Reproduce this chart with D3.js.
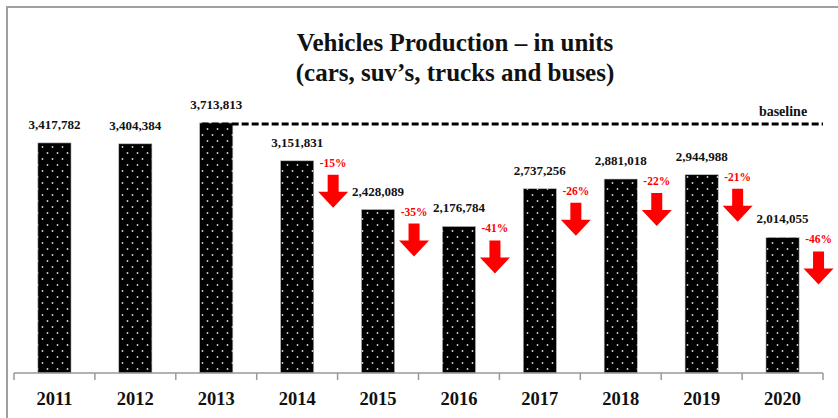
<!DOCTYPE html>
<html>
<head>
<meta charset="utf-8">
<script src="https://cdn.jsdelivr.net/npm/d3@7"></script>
<style>
    body { margin: 0; background: #fff; }
    svg { display: block; font-family: "Liberation Serif", "Times New Roman", serif; font-weight: bold; }
</style>
</head>
<body>
<div id="chart"></div>
<script>
// chart data
const years = ["2011", "2012", "2013", "2014", "2015", "2016", "2017", "2018", "2019", "2020"];
const production = [3417782, 3404384, 3713813, 3151831, 2428089, 2176784, 2737256, 2881018, 2944988, 2014055];
const changeYears = ["2014", "2015", "2016", "2017", "2018", "2019", "2020"];
const changeLabels = ["-15%", "-35%", "-41%", "-26%", "-22%", "-21%", "-46%"];
const baselineYear = "2013";

const data = years.map((y, i) => ({year: y, value: production[i]}));
const changes = changeYears.map((y, i) => ({year: y, label: changeLabels[i], value: production[years.indexOf(y)]}));

const width = 838, height = 418;

const svg = d3.select("#chart").append("svg")
    .attr("width", width)
    .attr("height", height);

// dotted fill for the bars
const defs = svg.append("defs");
const pat = defs.append("pattern")
    .attr("id", "dots")
    .attr("patternUnits", "userSpaceOnUse")
    .attr("width", 10)
    .attr("height", 12);
pat.append("rect").attr("width", 10).attr("height", 12).attr("fill", "#000");
pat.append("circle").attr("cx", 2.5).attr("cy", 3).attr("r", 0.9).attr("fill", "#d8d8d8");
pat.append("circle").attr("cx", 7.5).attr("cy", 9).attr("r", 0.9).attr("fill", "#d8d8d8");

// frame (top + left edge visible)
svg.append("path")
    .attr("d", `M7,${height} L7,7 L${width},7`)
    .attr("fill", "none")
    .attr("stroke", "#a0a0a0")
    .attr("stroke-width", 2);

// scales
const x = d3.scaleBand()
    .domain(years)
    .range([14, 823])
    .paddingInner(0.59)
    .paddingOuter(0.295);

const y = d3.scaleLinear()
    .domain([0, 4000000])
    .range([373, 103.7]);

// title
const title = svg.append("text")
    .attr("text-anchor", "middle")
    .attr("font-size", 25)
    .attr("fill", "#111");
title.append("tspan").attr("x", 455).attr("y", 51).text("Vehicles Production \u2013 in units");
title.append("tspan").attr("x", 455).attr("y", 81).text("(cars, suv\u2019s, trucks and buses)");

// bars
svg.selectAll(".bar")
    .data(data)
    .enter().append("rect")
    .attr("class", "bar")
    .attr("x", d => x(d.year))
    .attr("y", d => y(d.value))
    .attr("width", x.bandwidth())
    .attr("height", d => y(0) - y(d.value))
    .attr("fill", "url(#dots)")
    .attr("stroke", "#bbb")
    .attr("stroke-width", 0.6);

// baseline dashed line
const base = production[years.indexOf(baselineYear)];
svg.append("line")
    .attr("x1", x(baselineYear) + 2)
    .attr("x2", 823)
    .attr("y1", y(base) + 1)
    .attr("y2", y(base) + 1)
    .attr("stroke", "#000")
    .attr("stroke-width", 3)
    .attr("stroke-dasharray", "7,3");

svg.append("text")
    .attr("x", 783)
    .attr("y", y(base) - 7)
    .attr("text-anchor", "middle")
    .attr("font-size", 14)
    .attr("fill", "#111")
    .text("baseline");

// value labels
svg.selectAll(".val")
    .data(data)
    .enter().append("text")
    .attr("class", "val")
    .attr("x", d => x(d.year) + x.bandwidth() / 2)
    .attr("y", d => y(d.value) - 14)
    .attr("text-anchor", "middle")
    .attr("font-size", 13)
    .attr("fill", "#111")
    .text(d => d3.format(",")(d.value));

// red change labels + arrows
const offX = x.bandwidth() / 2 + 36;
svg.selectAll(".chg")
    .data(changes)
    .enter().append("text")
    .attr("class", "chg")
    .attr("x", d => x(d.year) + offX)
    .attr("y", d => y(d.value) + 6)
    .attr("text-anchor", "middle")
    .attr("font-size", 11.5)
    .attr("fill", "#ff0000")
    .text(d => d.label);

const arrow = d3.line()([[-5.5, 0], [5.5, 0], [5.5, 17], [15, 17], [0, 33], [-15, 17], [-5.5, 17]]) + "Z";
svg.selectAll(".arrow")
    .data(changes)
    .enter().append("path")
    .attr("class", "arrow")
    .attr("d", arrow)
    .attr("transform", d => `translate(${x(d.year) + offX},${y(d.value) + 14})`)
    .attr("fill", "#ff0000");

// x axis with ticks between categories
const axis = svg.append("g").attr("class", "x-axis");
axis.append("line")
    .attr("x1", 14).attr("x2", 823)
    .attr("y1", y(0)).attr("y2", y(0))
    .attr("stroke", "#999")
    .attr("stroke-width", 1.5);

const bounds = years.map(d => x(d) - x.step() * x.paddingInner() / 2);
bounds.push(823);
axis.selectAll(".tick")
    .data(bounds)
    .enter().append("line")
    .attr("class", "tick")
    .attr("x1", d => d).attr("x2", d => d)
    .attr("y1", y(0)).attr("y2", y(0) + 7)
    .attr("stroke", "#999")
    .attr("stroke-width", 1.5);

axis.selectAll(".year")
    .data(years)
    .enter().append("text")
    .attr("class", "year")
    .attr("x", d => x(d) + x.bandwidth() / 2)
    .attr("y", 405)
    .attr("text-anchor", "middle")
    .attr("font-size", 18.5)
    .attr("fill", "#111")
    .text(d => d);
</script>
</body>
</html>
